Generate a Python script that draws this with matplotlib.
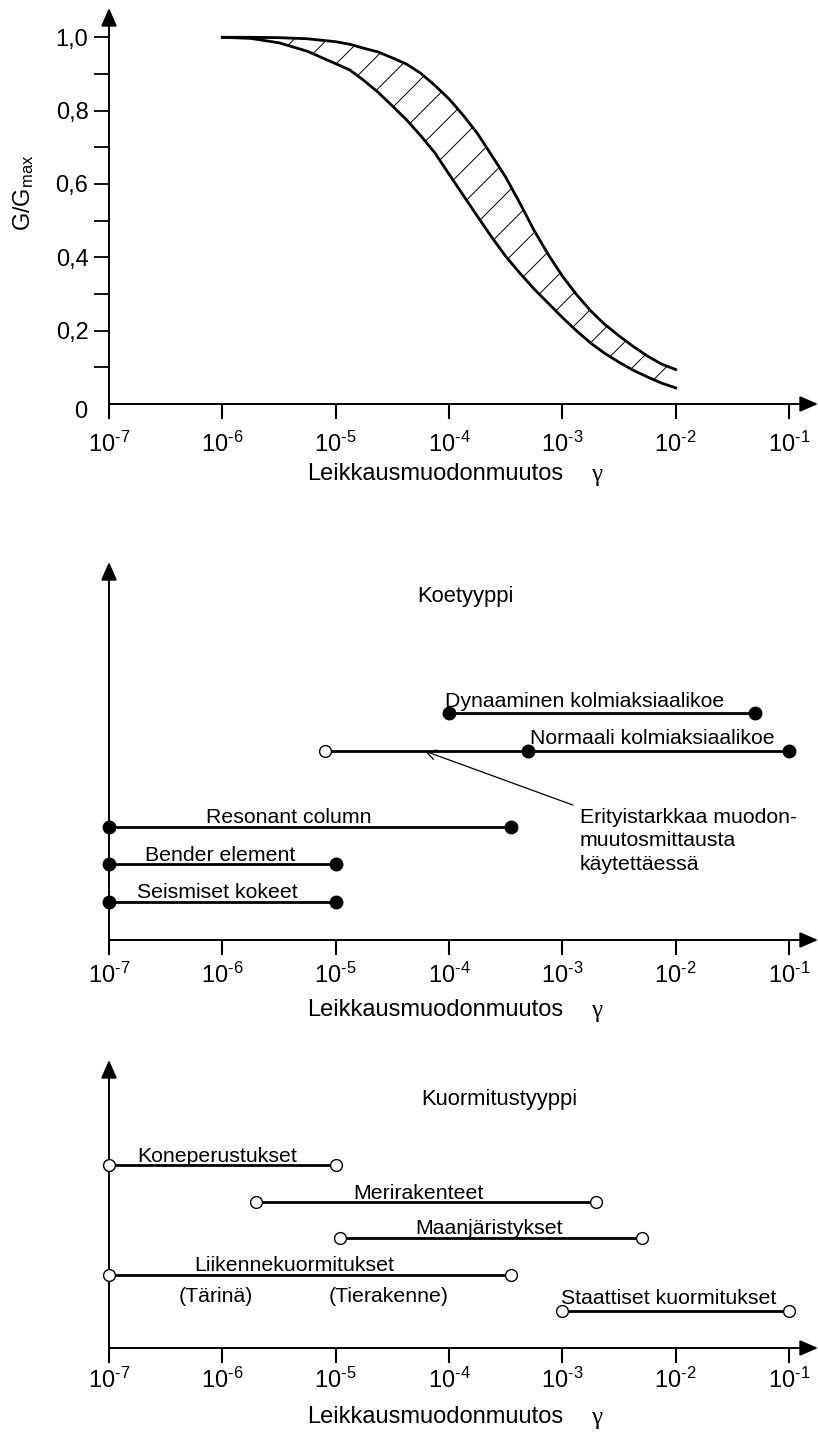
import matplotlib.pyplot as plt
from matplotlib.ticker import NullLocator

plt.rcParams['font.family'] = ['Liberation Sans', 'DejaVu Sans']
plt.rcParams['mathtext.fontset'] = 'custom'
plt.rcParams['mathtext.rm'] = 'Liberation Sans'
plt.rcParams['mathtext.it'] = 'Liberation Sans:italic'
plt.rcParams['hatch.linewidth'] = 0.7
plt.rcParams['hatch.color'] = 'k'

# --- data -------------------------------------------------------------
# shear modulus reduction band G/Gmax vs. shear strain
strain = [1e-6, 1.78e-6, 3.16e-6, 5.62e-6, 1e-5, 1.33e-5, 1.78e-5, 2.37e-5,
          3.16e-5, 4.22e-5, 5.62e-5, 7.5e-5, 1e-4, 1.33e-4, 1.78e-4, 2.37e-4,
          3.16e-4, 4.22e-4, 5.62e-4, 7.5e-4, 1e-3, 1.33e-3, 1.78e-3, 2.37e-3,
          3.16e-3, 4.22e-3, 5.62e-3, 7.5e-3, 1e-2]
g_upper = [1.0, 1.0, 0.999, 0.996, 0.988, 0.981, 0.970, 0.960,
           0.944, 0.927, 0.902, 0.869, 0.832, 0.788, 0.738, 0.679,
           0.619, 0.548, 0.474, 0.408, 0.349, 0.299, 0.254, 0.217,
           0.186, 0.157, 0.131, 0.109, 0.094]
g_lower = [1.0, 0.997, 0.985, 0.962, 0.928, 0.911, 0.882, 0.850,
           0.813, 0.775, 0.732, 0.685, 0.627, 0.570, 0.512, 0.456,
           0.403, 0.357, 0.314, 0.275, 0.236, 0.200, 0.166, 0.138,
           0.114, 0.092, 0.074, 0.057, 0.044]
g_ticks = [0.2, 0.4, 0.6, 0.8, 1.0]
g_tick_labels = ['0,2', '0,4', '0,6', '0,8', '1,0']
g_minor = [0.1, 0.3, 0.5, 0.7, 0.9]

decades = [1e-7, 1e-6, 1e-5, 1e-4, 1e-3, 1e-2, 1e-1]
exponents = [7, 6, 5, 4, 3, 2, 1]

# test types: strain range of each method
test_names = ['Dynaaminen kolmiaksiaalikoe', 'Normaali kolmiaksiaalikoe',
              'Resonant column', 'Bender element', 'Seismiset kokeet']
test_min = [1e-4, 5e-4, 1e-7, 1e-7, 1e-7]
test_max = [5e-2, 1e-1, 3.5e-4, 1e-5, 1e-5]
triax_precise_min = 8e-6  # with local strain measurement

# loading types: typical strain range
load_names = ['Koneperustukset', 'Merirakenteet', 'Maanjäristykset',
              'Liikennekuormitukset', 'Staattiset kuormitukset']
load_min = [1e-7, 2e-6, 1.1e-5, 1e-7, 1e-3]
load_max = [1e-5, 2e-3, 5e-3, 3.5e-4, 1e-1]

# --- layout (pixels) --------------------------------------------------
W, H = 818, 1432
DEC = 113.33            # pixels per decade
X0 = 109                # pixel position of 1e-7
x_right = 10 ** (-7 + (W - X0) / DEC)

fig = plt.figure(figsize=(W / 100, H / 100), dpi=100)


def px_axes(top, bottom):
    return fig.add_axes([X0 / W, 1 - bottom / H, (W - X0) / W, (bottom - top) / H])


def fig_text(x, y, s, **kw):
    kw.setdefault('ha', 'center')
    kw.setdefault('va', 'center')
    return fig.text(x / W, 1 - y / H, s, **kw)


def strain_axis(ax, pad, label_y):
    ax.set_xscale('log')
    ax.set_xlim(1e-7, x_right)
    for sp in ax.spines.values():
        sp.set_visible(False)
    ax.set_xticks(decades, labels=[r'$\mathregular{10^{\text{-}%d}}$' % e
                                   for e in exponents])
    ax.xaxis.set_minor_locator(NullLocator())
    ax.tick_params(axis='x', direction='out', length=10.5, width=1.5,
                   pad=pad, labelsize=17)
    arrow = dict(arrowstyle='-|>,head_length=0.55,head_width=0.24',
                 mutation_scale=20, color='k', lw=1.4, shrinkA=0, shrinkB=0)
    ax.annotate('', xy=(1, 0), xytext=(0, 0), xycoords='axes fraction',
                arrowprops=arrow, annotation_clip=False)
    ax.annotate('', xy=(0, 1), xytext=(0, 0), xycoords='axes fraction',
                arrowprops=arrow, annotation_clip=False)
    fig_text(435, label_y, 'Leikkausmuodonmuutos', fontsize=17)
    fig_text(597, label_y + 1, 'γ', fontsize=18, family='Liberation Serif')


def label(ax, text, x, y, dx, dy, va='baseline'):
    ax.annotate(text, xy=(x, y), xytext=(dx, dy), textcoords='offset pixels',
                ha='left', va=va, fontsize=15.3, annotation_clip=False)


# --- G/Gmax band ------------------------------------------------------
ax1 = px_axes(8, 404)
strain_axis(ax1, pad=9.5, label_y=474)
ax1.set_ylim(0, 396 / 366.7)
ax1.fill_between(strain, g_lower, g_upper, facecolor='none', edgecolor='k',
                 hatch='/', linewidth=0)
ax1.plot(strain, g_upper, color='k', lw=2)
ax1.plot(strain, g_lower, color='k', lw=2)
ax1.set_yticks(g_ticks, labels=g_tick_labels)
ax1.set_yticks(g_minor, minor=True)
ax1.tick_params(axis='y', which='both', direction='out', length=10.8,
                width=1.3, pad=4, labelsize=17)
ax1.annotate('0', xy=(0, 0), xycoords=('axes fraction', 'data'),
             xytext=(-22, -8), textcoords='offset pixels',
             ha='right', va='center', fontsize=17)
fig_text(24, 193, r'G/G$_{\mathregular{max}}$', fontsize=17, rotation=90)

# --- test types -------------------------------------------------------
ax2 = px_axes(562, 940)
strain_axis(ax2, pad=5.5, label_y=1010)
ax2.set_ylim(0, 10)
ax2.tick_params(axis='y', left=False, labelleft=False)
test_levels = [6, 5, 3, 2, 1]
test_offsets = [(-4, 6), (2, 7), (97, 4), (36, 3), (28, 4)]

# extended range of the normal triaxial test
ax2.plot([triax_precise_min, test_min[1]], [test_levels[1]] * 2, color='k',
         lw=2, solid_capstyle='butt')
ax2.plot([triax_precise_min], [test_levels[1]], 'o', ms=8.5, mfc='white',
         mec='k', mew=1, zorder=4)
for name, lo, hi, lev, (dx, dy) in zip(test_names, test_min, test_max,
                                       test_levels, test_offsets):
    ax2.plot([lo, hi], [lev, lev], color='k', lw=2, solid_capstyle='butt',
             clip_on=False)
    ax2.plot([lo, hi], [lev, lev], 'o', ms=9, color='k', clip_on=False,
             zorder=4)
    label(ax2, name, lo, lev, dx, dy)

ax2.annotate('', xy=(6.1e-5, 5), xytext=(1.24e-3, 3.57),
             arrowprops=dict(arrowstyle='->,head_length=0.7,head_width=0.35',
                             lw=0.9, color='k', shrinkA=0, shrinkB=0))
ax2.text(1.43e-3, 2.62, 'Erityistarkkaa muodon-\nmuutosmittausta\nkäytettäessä',
         ha='left', va='center', fontsize=15.3, linespacing=1.3)
fig_text(465, 597, 'Koetyyppi', fontsize=15.8)

# --- loading types ----------------------------------------------------
ax3 = px_axes(1060, 1348)
strain_axis(ax3, pad=3.5, label_y=1417)
ax3.set_ylim(0, 288 / 36.6)
ax3.tick_params(axis='y', left=False, labelleft=False)
load_levels = [5, 4, 3, 2, 1]
load_offsets = [(28, 3), (97, 3), (75, 4), (85, 4), (-1, 7)]
for name, lo, hi, lev, (dx, dy) in zip(load_names, load_min, load_max,
                                       load_levels, load_offsets):
    ax3.plot([lo, hi], [lev, lev], color='k', lw=2, solid_capstyle='butt',
             clip_on=False)
    ax3.plot([lo, hi], [lev, lev], 'o', ms=8.5, mfc='white', mec='k', mew=1,
             clip_on=False, zorder=4)
    label(ax3, name, lo, lev, dx, dy)

# traffic loading: vibration vs. road structure
label(ax3, '(Tärinä)', load_min[3], load_levels[3], 70, -22, va='center')
label(ax3, '(Tierakenne)', load_min[3], load_levels[3], 220, -22, va='center')
fig_text(499, 1099, 'Kuormitustyyppi', fontsize=15.8)

fig.savefig('out.png', dpi=100)
